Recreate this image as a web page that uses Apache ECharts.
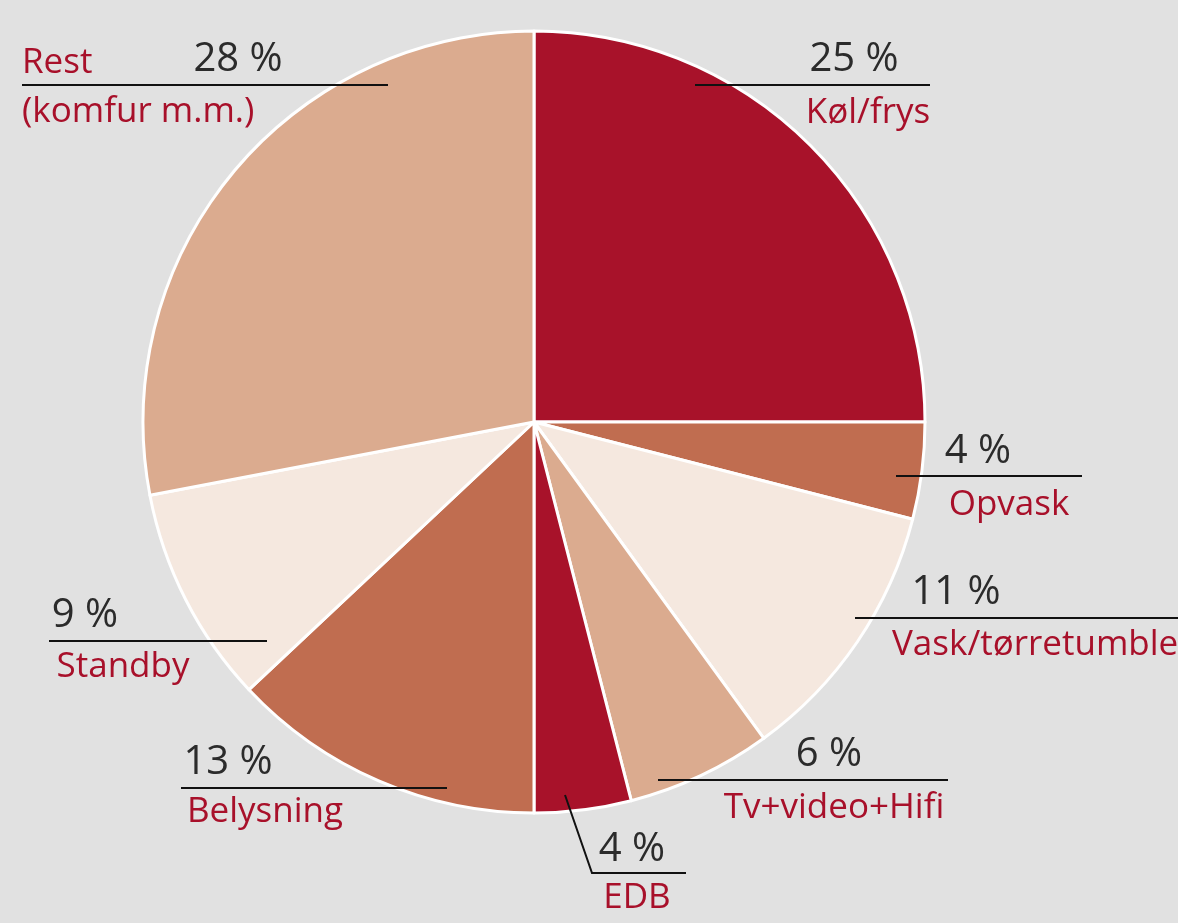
<!DOCTYPE html>
<html>
<head>
<meta charset="utf-8">
<script src="https://cdn.jsdelivr.net/npm/echarts@6/dist/echarts.min.js"></script>
<style>
  html, body { margin: 0; padding: 0; background: #e1e1e1; }
  #main { width: 1178px; height: 923px; }
</style>
</head>
<body>
<div id="main"></div>
<script>
var myChart = echarts.init(document.getElementById('main'));

// data, clockwise from 12 o'clock
var categories = ['Køl/frys', 'Opvask', 'Vask/tørretumbler', 'Tv+video+Hifi', 'EDB', 'Belysning', 'Standby', 'Rest\n(komfur m.m.)'];
var shares = [25, 4, 11, 6, 4, 13, 9, 28];
var sliceColors = ['#a8122a', '#c06d50', '#f5e8df', '#dbab8f', '#a8122a', '#c06d50', '#f5e8df', '#dbab8f'];

// where each label sits (label placement only)
var pctPos = [[854, 60], [978, 452], [956, 593], [829, 755], [632, 850], [228, 763], [85, 616], [238, 60]];
var namePos = [[868, 113, 'center'], [1009, 505, 'center'], [892, 645, 'left'], [834, 808, 'center'],
    [637, 898, 'center'], [265, 812, 'center'], [123, 667, 'center'], [22, 88, 'left']];
var linePts = [
    [[695, 85], [930, 85], [930, 85]],
    [[896, 476], [1082, 476], [1082, 476]],
    [[855, 618], [1178, 618], [1178, 618]],
    [[658, 780], [948, 780], [948, 780]],
    [[565, 795], [592, 873], [686, 873]],
    [[181, 788], [447, 788], [447, 788]],
    [[49, 641], [267, 641], [267, 641]],
    [[22, 85], [388, 85], [388, 85]]
];

var fontFam = '"Open Sans", "Noto Sans", sans-serif';

var pieData = categories.map(function (name, i) {
    return { name: name, value: shares[i], itemStyle: { color: sliceColors[i] } };
});
var ghostData = categories.map(function (name, i) {
    return { name: name, value: shares[i] };
});

option = {
    backgroundColor: '#e1e1e1',
    animation: false,
    tooltip: { show: false },
    series: [{
        type: 'pie',
        center: [534, 422],
        radius: [0, 391],
        startAngle: 90,
        clockwise: true,
        avoidLabelOverlap: false,
        silent: true,
        itemStyle: {
            borderColor: '#ffffff',
            borderWidth: 3
        },
        label: {
            show: true,
            position: 'outside',
            formatter: '{c} %',
            color: '#2b2b2b',
            fontFamily: fontFam,
            fontSize: 40
        },
        labelLine: { show: false },
        labelLayout: function (params) {
            var i = params.dataIndex;
            return {
                x: pctPos[i][0],
                y: pctPos[i][1],
                align: 'center',
                verticalAlign: 'middle'
            };
        },
        data: pieData
    }, {
        // transparent copy on top: carries the names and the leader lines
        type: 'pie',
        z: 5,
        center: [534, 422],
        radius: [0, 391],
        startAngle: 90,
        clockwise: true,
        avoidLabelOverlap: false,
        silent: true,
        itemStyle: { color: 'rgba(0,0,0,0)', borderWidth: 0 },
        label: {
            show: true,
            position: 'outside',
            formatter: '{b}',
            color: '#a8102a',
            fontFamily: fontFam,
            fontSize: 35,
            lineHeight: 49
        },
        labelLine: {
            show: true,
            length: 0,
            length2: 0,
            lineStyle: { color: '#111111', width: 2 }
        },
        labelLayout: function (params) {
            var i = params.dataIndex;
            return {
                x: namePos[i][0],
                y: namePos[i][1],
                align: namePos[i][2],
                verticalAlign: 'middle',
                labelLinePoints: linePts[i]
            };
        },
        data: ghostData
    }]
};

myChart.setOption(option);
</script>
</body>
</html>
